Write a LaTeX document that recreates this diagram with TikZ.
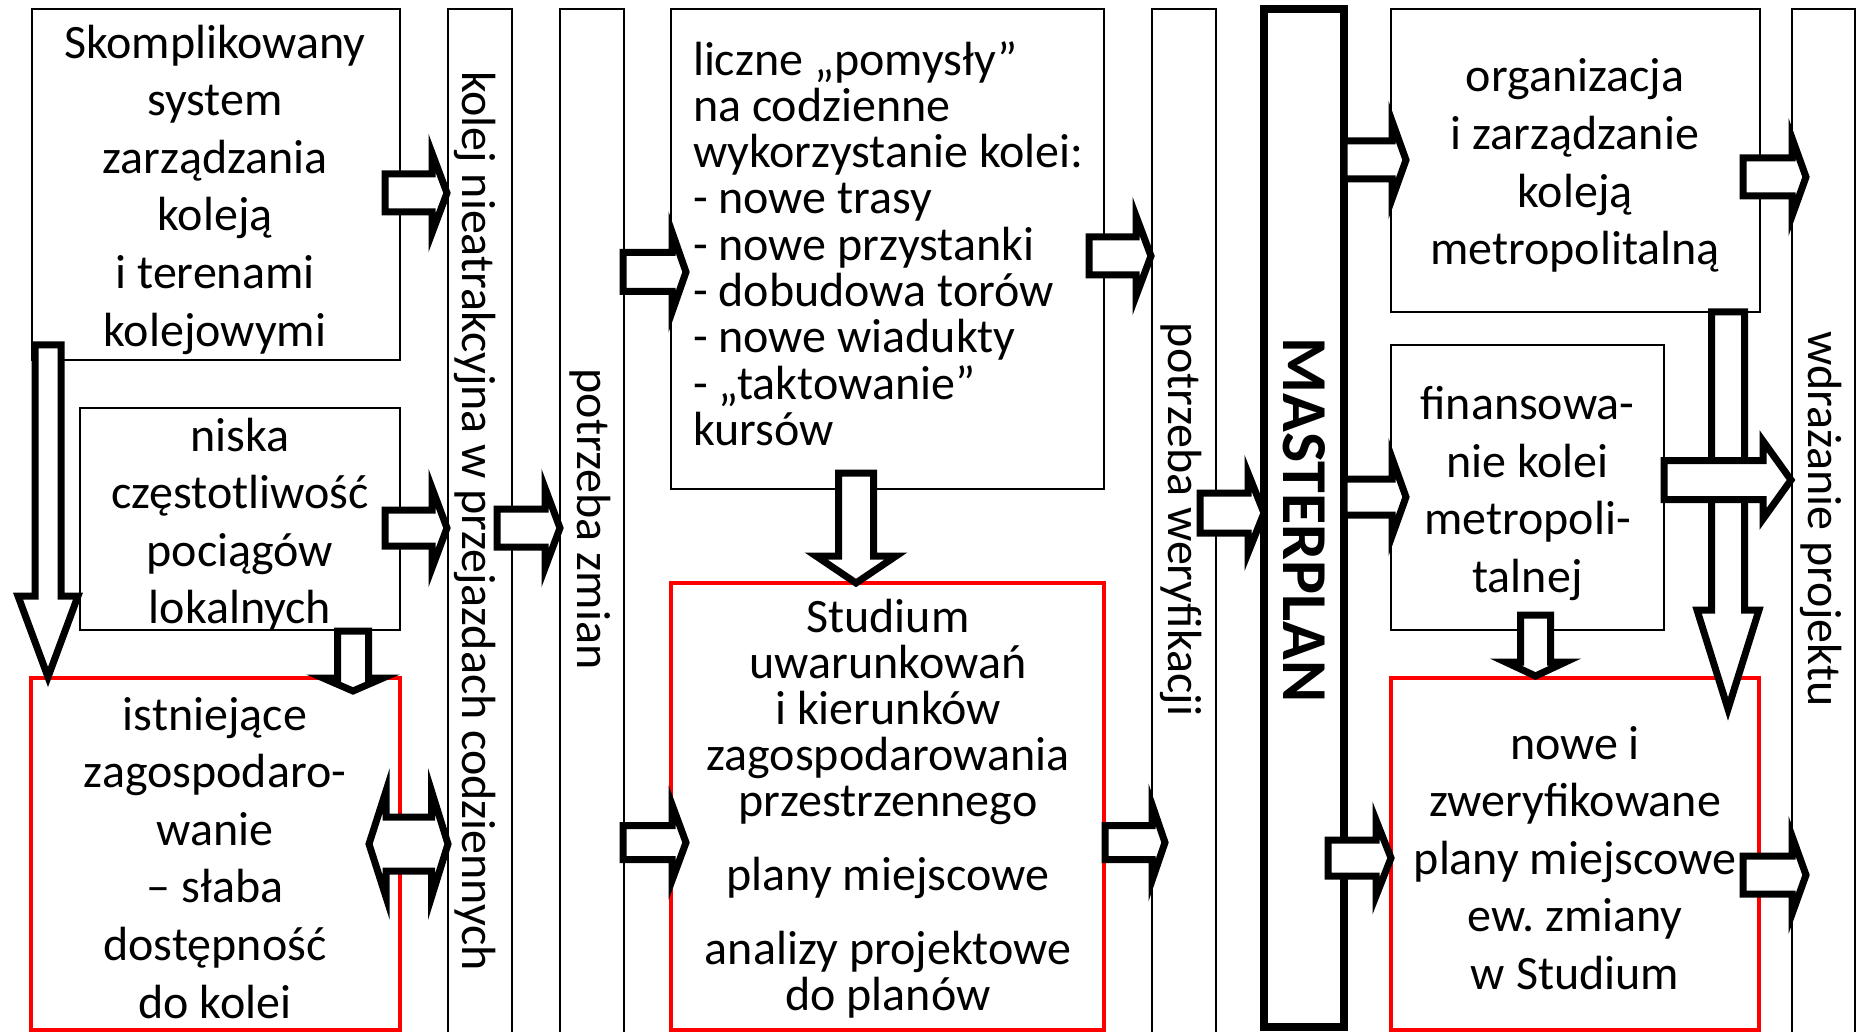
\documentclass[tikz,border=0pt]{standalone}
\usepackage{fontspec}
\setmainfont{Carlito}
\newcommand\firstln{\rule{0pt}{40pt}}
% horizontal block arrow: x0, head base x, tip x, y centre, shaft half, head half
\newcommand\hblk[6]{\draw[blk] (#1,#4-#5) -- (#2,#4-#5) -- (#2,#4-#6) -- (#3,#4) -- (#2,#4+#6) -- (#2,#4+#5) -- (#1,#4+#5) -- cycle;}
% vertical block arrow: x centre, y0, head base y, tip y, shaft half, head half
\newcommand\vblk[6]{\draw[blk] (#1-#5,#2) -- (#1-#5,#3) -- (#1-#6,#3) -- (#1,#4) -- (#1+#6,#3) -- (#1+#5,#3) -- (#1+#5,#2) -- cycle;}
\begin{document}
\lineskiplimit=-100pt\relax
\frenchspacing
\begin{tikzpicture}[x=1pt,y=-1pt,
  frame/.style={draw=black,line width=2pt,inner sep=0pt,outer sep=0pt,anchor=north west},
  redframe/.style={frame,draw=red,line width=4.5pt},
  mpframe/.style={frame,line width=8pt},
  blk/.style={draw=black,fill=white,line width=7pt,line join=miter,miter limit=10},
  txt/.style={inner sep=0pt,outer sep=0pt,align=center,anchor=north,font=\fontsize{48pt}{57.6pt}\selectfont},
  txtn/.style={inner sep=0pt,outer sep=0pt,font=\fontsize{48pt}{46.3pt}\selectfont},
  vtxt/.style={inner sep=0pt,outer sep=0pt,rotate=-90,anchor=base,font=\fontsize{48pt}{57pt}\selectfont},
  mptxt/.style={inner sep=0pt,outer sep=0pt,rotate=-90,anchor=base,font=\fontsize{64pt}{64pt}\selectfont\bfseries}]
\path[use as bounding box] (0,0) rectangle (1861,1032);
\fill[white] (0,0) rectangle (1861,1032);
\clip (0,0) rectangle (1861,1032);

% frames
\node[frame,minimum width=368pt,minimum height=350.5pt] (b1) at (32,9.5) {};
\node[frame,minimum width=320pt,minimum height=222pt] (b2) at (80,408) {};
\node[redframe,minimum width=369pt,minimum height=352pt] (r1) at (31,678) {};
\node[frame,minimum width=64pt,minimum height=1040pt] (c1) at (448,9.5) {};
\node[frame,minimum width=64pt,minimum height=1040pt] (c2) at (560,9.5) {};
\node[frame,minimum width=433pt,minimum height=479.5pt] (b3) at (671,9.5) {};
\node[redframe,minimum width=433pt,minimum height=447pt] (r2) at (671,583) {};
\node[frame,minimum width=64pt,minimum height=1040pt] (c3) at (1152,9.5) {};
\node[mpframe,minimum width=80pt,minimum height=1018pt] (mp) at (1264,9) {};
\node[frame,minimum width=369pt,minimum height=302.5pt] (b4) at (1391,9.5) {};
\node[frame,minimum width=273pt,minimum height=285pt] (b5) at (1391,345) {};
\node[redframe,minimum width=368pt,minimum height=352pt] (r3) at (1391,678) {};
\node[frame,minimum width=63pt,minimum height=1040pt] (c4) at (1792,9.5) {};

% block arrows
\vblk{48}{345}{596}{677}{13}{30}
\hblk{385}{432}{447}{193}{19}{40}
\hblk{385}{432}{447}{528}{18}{40}
\hblk{497}{545}{560}{528}{19}{40}
\vblk{353}{631}{678}{691}{15.5}{30}
\draw[blk] (369,844) -- (386,791) -- (386,817) -- (431.5,817) -- (431.5,791) -- (448,844)
  -- (431.5,897) -- (431.5,871) -- (386,871) -- (386,897) -- cycle;
\hblk{623}{672}{686}{272}{19.5}{40}
\hblk{1089}{1136}{1151}{256}{19}{40}
\vblk{856}{473}{556}{583}{17.5}{40}
\hblk{623}{672}{686}{842.5}{17}{38}
\hblk{1105}{1152}{1165}{842.5}{17}{38}
\hblk{1200}{1248}{1264}{513}{20}{40}
\hblk{1344}{1392}{1406}{160}{19}{39}
\hblk{1344}{1392}{1406}{497}{18}{39}
\hblk{1328}{1376}{1391}{858}{18}{38}
\hblk{1743}{1792}{1806}{177}{19}{39}
\vblk{1728}{312}{610}{709}{16.5}{31}
\hblk{1664}{1763}{1791}{480}{19.5}{39}
\vblk{1535.5}{615}{662}{676}{15}{30}
\hblk{1743}{1792}{1806}{875}{19}{39}

% texts
\node[txt] (t1) at (215,18) {\firstln Skomplikowany\\system\\zarządzania\\koleją\\i terenami\\kolejowymi};
\node[txt] (t2) at (240,411) {\firstln niska\\częstotliwość\\pociągów\\lokalnych};
\node[txt] (t3) at (215,690) {\firstln istniejące\\zagospodaro-\\wanie\\– słaba\\dostępność\\do kolei};
\node[txtn,align=left,anchor=north west] (t4) at (693,35) {\firstln liczne „pomysły”\\na codzienne\\wykorzystanie kolei:\\- nowe trasy\\- nowe przystanki\\- dobudowa torów\\- nowe wiadukty\\- „taktowanie”\\kursów};
\node[txtn,align=center,anchor=north,font=\fontsize{48pt}{46pt}\selectfont] (t5) at (888,592) {\firstln Studium\\uwarunkowań\\i kierunków\\zagospodarowania\\przestrzennego\\[28.8pt]plany miejscowe\\[27.6pt]analizy projektowe\\do planów};
\node[txt] (t6) at (1575,52) {\firstln organizacja\\i zarządzanie\\koleją\\metropolitalną};
\node[txt] (t7) at (1527.5,379.5) {\firstln finansowa-\\nie kolei\\metropoli-\\talnej};
\node[txt] (t8) at (1575,719) {\firstln nowe i\\zweryfikowane\\plany miejscowe\\ew. zmiany\\w Studium};

\node[vtxt] (v1) at (462,521) {kolej nieatrakcyjna w przejazdach codziennych};
\node[vtxt] (v2) at (577,519) {potrzeba zmian};
\node[vtxt] (v3) at (1168,519.5) {potrzeba weryfikacji};
\node[vtxt] (v4) at (1808,519) {wdrażanie projektu};
\node[mptxt] (v5) at (1283,520) {MASTERPLAN};
\end{tikzpicture}
\end{document}
